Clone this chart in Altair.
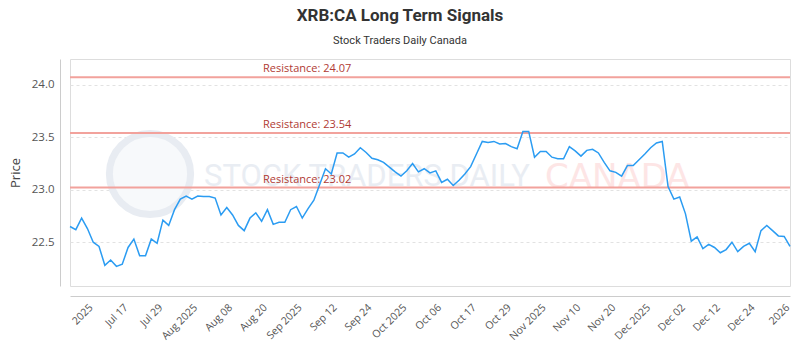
import altair as alt
import pandas as pd

prices = [
    22.65, 22.62, 22.73, 22.63, 22.50, 22.46, 22.28, 22.33, 22.27, 22.29,
    22.45, 22.53, 22.37, 22.37, 22.53, 22.49, 22.71, 22.66, 22.81, 22.91,
    22.94, 22.91, 22.94, 22.935, 22.935, 22.92, 22.76, 22.83, 22.76, 22.66,
    22.61, 22.73, 22.78, 22.70, 22.81, 22.67, 22.69, 22.69, 22.81, 22.84,
    22.73, 22.82, 22.90, 23.05, 23.20, 23.15, 23.35, 23.35, 23.31, 23.34,
    23.40, 23.355, 23.30, 23.285, 23.26, 23.215, 23.17, 23.13, 23.18, 23.25,
    23.17, 23.20, 23.16, 23.18, 23.07, 23.10, 23.04, 23.09, 23.15, 23.22,
    23.34, 23.46, 23.45, 23.46, 23.435, 23.44, 23.41, 23.39, 23.555, 23.555,
    23.31, 23.365, 23.365, 23.31, 23.295, 23.295, 23.41, 23.37, 23.32, 23.375,
    23.385, 23.35, 23.26, 23.18, 23.165, 23.13, 23.23, 23.23, 23.285, 23.34,
    23.40, 23.445, 23.46, 23.03, 22.91, 22.93, 22.77, 22.51, 22.55, 22.44,
    22.48, 22.45, 22.40, 22.43, 22.50, 22.41, 22.46, 22.49, 22.41, 22.61,
    22.66, 22.61, 22.56, 22.555, 22.46,
]

tick_index = [3, 9, 15, 21, 27, 33, 39, 45, 51, 57, 63, 69, 75, 81, 87, 93, 99, 105, 111, 117, 123]
tick_labels = ["2025", "Jul 17", "Jul 29", "Aug 2025", "Aug 08", "Aug 20", "Sep 2025",
               "Sep 12", "Sep 24", "Oct 2025", "Oct 06", "Oct 17", "Oct 29", "Nov 2025",
               "Nov 10", "Nov 20", "Dec 2025", "Dec 02", "Dec 12", "Dec 24", "2026"]

res_levels = [24.07, 23.54, 23.02]
res_labels = ["Resistance: 24.07", "Resistance: 23.54", "Resistance: 23.02"]

y_ticks = [22.5, 23.0, 23.5, 24.0]
y_domain = [22.083, 24.245]

df = pd.DataFrame({"i": list(range(len(prices))), "price": prices})
res_df = pd.DataFrame({"level": res_levels, "label": res_labels})

lab_arr = "[" + ",".join("'" + s + "'" for s in tick_labels) + "]"
idx_arr = "[" + ",".join(str(v) for v in tick_index) + "]"
label_expr = f"{lab_arr}[indexof({idx_arr}, datum.value)]"

x_enc = alt.X("i:Q", scale=alt.Scale(domain=[0, len(prices) - 1], nice=False, zero=False),
              axis=alt.Axis(values=tick_index, labelExpr=label_expr, title=None, grid=False,
                            ticks=False, labelAngle=-45, labelAlign="right", labelBaseline="top",
                            labelPadding=6, offset=10, domainColor="#cccccc",
                            labelFont="Open Sans", labelFontSize=10.5, labelColor="#555555",
                            labelOverlap=False))
y_enc = alt.Y("price:Q", scale=alt.Scale(domain=y_domain, nice=False, zero=False),
              axis=alt.Axis(values=y_ticks, format=".1f", title="Price", grid=True,
                            gridDash=[3, 3], gridColor="#e2e2e2", ticks=False,
                            offset=10, domainColor="#cccccc", labelPadding=6,
                            labelFont="Open Sans", labelFontSize=11.5, labelColor="#555555",
                            titleFont="Open Sans", titleFontSize=13, titleFontWeight="normal",
                            titleColor="#444444", titlePadding=9))

wm_df = pd.DataFrame({"t": ["STOCK TRADERS DAILY"]})
logo = alt.Chart(wm_df).mark_point(shape="circle", size=6600, filled=True, fill="#f7f9fb",
                                   stroke="#e8ecf2", strokeWidth=7, opacity=1).encode(
    x=alt.value(80), y=alt.value(115))
wm1 = alt.Chart(wm_df).mark_text(text="STOCK TRADERS DAILY", font="Roboto", fontSize=31,
                                 align="left", baseline="middle", color="#e9edf3").encode(
    x=alt.value(134), y=alt.value(118))
wm2 = alt.Chart(wm_df).mark_text(text="CANADA", font="DejaVu Sans", fontSize=34,
                                 align="left", baseline="middle", color="#fde5e5").encode(
    x=alt.value(475), y=alt.value(119))

line = alt.Chart(df).mark_line(color="#2b9cf2", strokeWidth=1.5).encode(x=x_enc, y=y_enc)

rules = alt.Chart(res_df).mark_rule(color="#f2a29c", strokeWidth=2).encode(y=alt.Y("level:Q"))
rule_text = alt.Chart(res_df).mark_text(align="left", baseline="bottom", dy=-3,
                                        font="Open Sans", fontSize=11, color="#b03a33").encode(
    x=alt.value(193), y=alt.Y("level:Q"), text="label:N")

chart = alt.layer(logo, wm1, wm2, rules, line, rule_text).properties(
    width=720, height=227,
    padding={"left": 70, "top": 59, "right": 10, "bottom": 64},
    autosize=alt.AutoSizeParams(type="none"),
    title=alt.TitleParams(text="XRB:CA Long Term Signals", subtitle="Stock Traders Daily Canada",
                          font="Roboto", fontSize=17, fontWeight="bold", color="#333333",
                          subtitleFont="Roboto", subtitleFontSize=11, subtitleColor="#333333",
                          subtitlePadding=10, anchor="middle", dx=-30, offset=12),
).configure_view(stroke="#888888", strokeWidth=1).configure(background="white")

chart.save("out.html", embed_options={"renderer": "svg", "actions": False})
